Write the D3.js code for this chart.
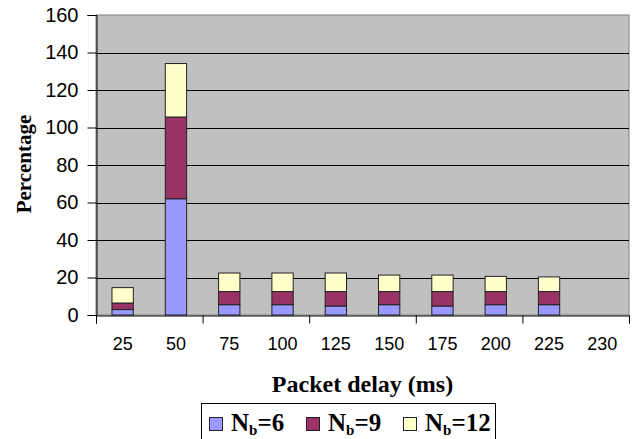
<!DOCTYPE html>
<html>
<head>
<meta charset="utf-8">
<script src="https://cdn.jsdelivr.net/npm/d3@7/dist/d3.min.js"></script>
<style>
  html, body { margin: 0; padding: 0; background: #fff; }
  svg { display: block; }
</style>
</head>
<body>
<svg id="chart" width="636" height="439"></svg>
<script>
// Packet delay categories (ms) and stacked percentages per buffer size
const categories = ["25", "50", "75", "100", "125", "150", "175", "200", "225", "230"];
const nb6  = [2.9, 62, 5.5, 5.5, 4.8, 5.5, 4.8, 5.5, 5.5, 0];
const nb9  = [3.5, 43.6, 7, 7, 7.7, 7, 7.7, 7, 7, 0];
const nb12 = [8.2, 28.5, 9.9, 9.9, 9.9, 8.8, 8.8, 8.1, 7.8, 0];
const yTicks = [0, 20, 40, 60, 80, 100, 120, 140, 160];
const seriesNames = ["N_b=6", "N_b=9", "N_b=12"];

const colors = ["#9999FF", "#993366", "#FFFFCC"];

const svg = d3.select("#chart");
const plot = { left: 96, right: 629, top: 15, bottom: 315 };

const rows = categories.map((c, i) => ({ cat: c, s0: nb6[i], s1: nb9[i], s2: nb12[i] }));
const keys = ["s0", "s1", "s2"];
const stacked = d3.stack().keys(keys)(rows);

const x = d3.scaleBand()
  .domain(categories)
  .range([plot.left, plot.right])
  .paddingInner(0.6)
  .paddingOuter(0.3);

const xEdge = d3.scaleLinear()
  .domain([0, categories.length])
  .range([plot.left, plot.right]);

const y = d3.scaleLinear()
  .domain([0, 160])
  .range([plot.bottom, plot.top]);

// plot background
svg.append("rect")
  .attr("x", plot.left).attr("y", plot.top)
  .attr("width", plot.right - plot.left).attr("height", plot.bottom - plot.top)
  .attr("fill", "#C0C0C0")
  .attr("stroke", "#808080")
  .attr("stroke-width", 1);

// horizontal gridlines
svg.append("g")
  .selectAll("line")
  .data(yTicks.filter(d => d > 0 && d < 160))
  .join("line")
  .attr("x1", plot.left).attr("x2", plot.right)
  .attr("y1", d => Math.round(y(d)) + 0.5).attr("y2", d => Math.round(y(d)) + 0.5)
  .attr("stroke", "#000").attr("stroke-width", 1);

// stacked bars
svg.append("g")
  .selectAll("g")
  .data(stacked)
  .join("g")
  .attr("fill", (d, i) => colors[i])
  .selectAll("rect")
  .data(d => d.filter(p => p[1] - p[0] > 0))
  .join("rect")
  .attr("x", d => x(d.data.cat))
  .attr("y", d => y(d[1]))
  .attr("width", x.bandwidth())
  .attr("height", d => y(d[0]) - y(d[1]))
  .attr("stroke", "#222")
  .attr("stroke-width", 1);

// y axis
const yAxis = svg.append("g")
  .attr("transform", `translate(${plot.left + 0.5},0)`)
  .call(d3.axisLeft(y).tickValues(yTicks).tickSize(9).tickPadding(9));
yAxis.select(".domain").attr("stroke", "#000");
yAxis.selectAll("line").attr("stroke", "#000");
yAxis.selectAll("text")
  .attr("font-family", "Liberation Sans, Arial, sans-serif")
  .attr("font-size", 20)
  .attr("fill", "#000");

// x axis: tick marks at every other category boundary
const xAxis = svg.append("g")
  .attr("transform", `translate(0,${plot.bottom + 0.5})`)
  .call(d3.axisBottom(xEdge).tickValues([0, 2, 4, 6, 8, 10]).tickSize(8).tickFormat(""));
xAxis.select(".domain").attr("stroke", "#000");
xAxis.selectAll("line").attr("stroke", "#000");

// x category labels
const xLabels = svg.append("g")
  .attr("transform", `translate(0,${plot.bottom})`)
  .call(d3.axisBottom(x).tickSize(0).tickPadding(22));
xLabels.select(".domain").remove();
xLabels.selectAll("text")
  .attr("font-family", "Liberation Sans, Arial, sans-serif")
  .attr("font-size", 18)
  .attr("fill", "#000");

// axis titles
svg.append("text")
  .attr("x", (plot.left + plot.right) / 2)
  .attr("y", 392)
  .attr("text-anchor", "middle")
  .attr("font-family", "Liberation Serif, Times New Roman, serif")
  .attr("font-weight", "bold")
  .attr("font-size", 24)
  .text("Packet delay (ms)");

svg.append("text")
  .attr("transform", "translate(31,164) rotate(-90)")
  .attr("text-anchor", "middle")
  .attr("font-family", "Liberation Serif, Times New Roman, serif")
  .attr("font-weight", "bold")
  .attr("font-size", 21)
  .text("Percentage");

// legend
const legend = svg.append("g");
legend.append("rect")
  .attr("x", 201.5).attr("y", 403.5)
  .attr("width", 294).attr("height", 40)
  .attr("fill", "#fff").attr("stroke", "#000").attr("stroke-width", 1);

const legendX = [209, 306, 403];
seriesNames.forEach((name, i) => {
  const g = legend.append("g").attr("transform", `translate(${legendX[i]},0)`);
  g.append("rect")
    .attr("x", 0.5).attr("y", 417.5)
    .attr("width", 13).attr("height", 13)
    .attr("fill", colors[i]).attr("stroke", "#222");
  const [base, val] = name.split("=");
  const t = g.append("text")
    .attr("x", 22).attr("y", 431)
    .attr("font-family", "Liberation Serif, Times New Roman, serif")
    .attr("font-weight", "bold")
    .attr("font-size", 25);
  t.append("tspan").text(base.split("_")[0]);
  t.append("tspan").attr("font-size", 15).attr("dy", 4).text(base.split("_")[1]);
  t.append("tspan").attr("dy", -4).text("=" + val);
});
</script>
</body>
</html>
